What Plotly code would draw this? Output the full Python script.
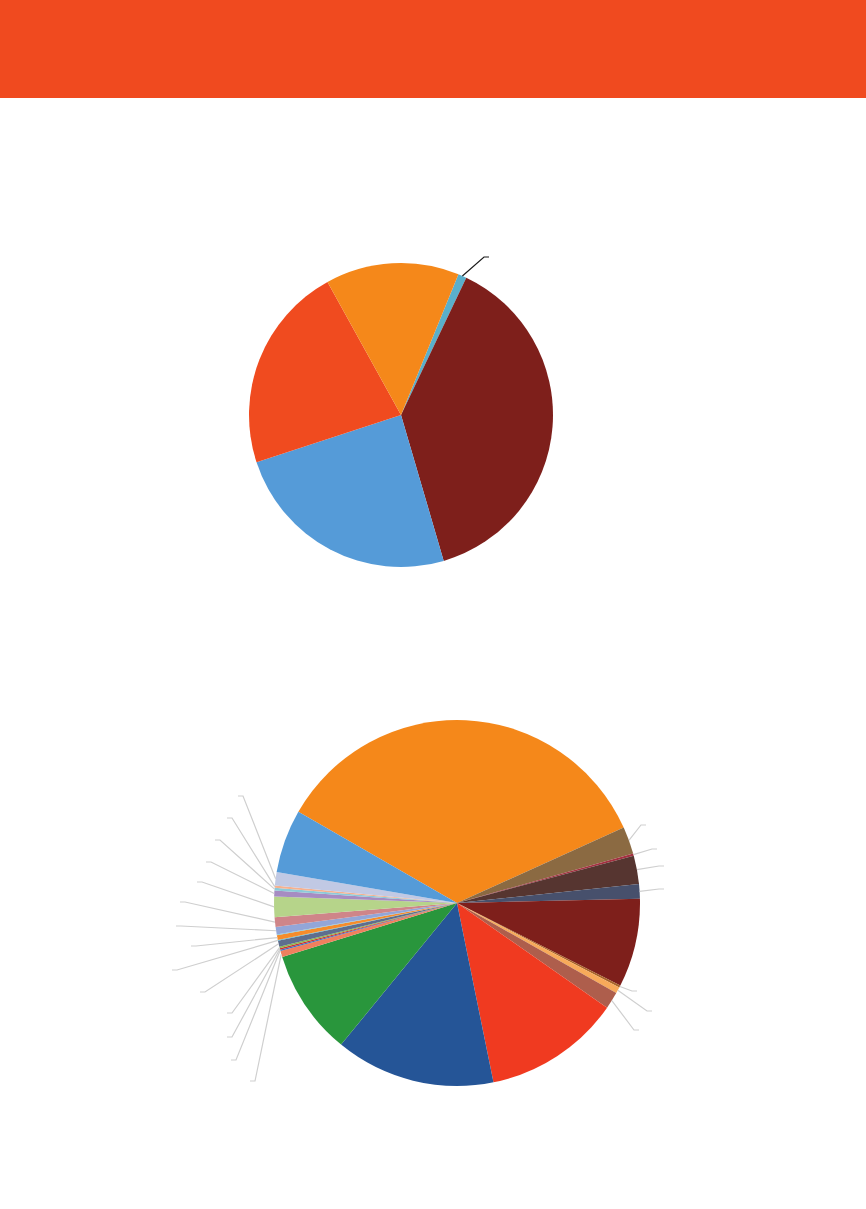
import math
import plotly.graph_objects as go

# ---- data -------------------------------------------------------------
# Upper pie (clockwise, first slice starts at TOP_ROTATION degrees)
TOP_LABELS = ['Category E', 'Category A', 'Category B', 'Category C', 'Category D']
TOP_VALUES = [0.9, 38.4, 24.5, 22.0, 14.2]
TOP_COLORS = ['#5AAFCB', '#7E1F1B', '#559BD8', '#F04B1F', '#F5881A']

# Lower pie (clockwise, first slice starts at BOTTOM_ROTATION degrees)
BOTTOM_LABELS = [
    'Item 01', 'Item 02', 'Item 03', 'Item 04', 'Item 05', 'Item 06', 'Item 07',
    'Item 08', 'Item 09', 'Item 10', 'Item 11', 'Item 12', 'Item 13', 'Item 14',
    'Item 15', 'Item 16', 'Item 17', 'Item 18', 'Item 19', 'Item 20', 'Item 21',
    'Item 22', 'Item 23', 'Item 24', 'Item 25', 'Item 26', 'Item 27', 'Item 28',
]
BOTTOM_VALUES = [
    34.9, 2.4, 0.2, 2.5, 1.3, 7.8, 0.2,
    0.55, 1.5, 12.1, 14.1, 9.3, 0.55, 0.12,
    0.12, 0.14, 0.53, 0.08, 0.42, 0.07, 0.64,
    0.87, 1.8, 0.52, 0.24, 0.2, 1.17, 5.6,
]
BOTTOM_COLORS = [
    '#F5881A', '#8B6A42', '#A33040', '#563530', '#47506C', '#7E1F1B', '#A8642A',
    '#F8AA5A', '#AE5E4C', '#F03A20', '#255597', '#29963C', '#F0805E', '#3A6FC0',
    '#D03030', '#8DB84A', '#5E6E8E', '#5BB8D0', '#F58C2C', '#7CC8D8', '#93A6D8',
    '#CF8589', '#B6D48A', '#A68CC2', '#8CCAD9', '#F6B18F', '#C1C9E4', '#559BD8',
]

# ---- layout settings --------------------------------------------------
W, H = 866, 1209
HEADER_H = 98
HEADER_COLOR = '#F04A1F'

TOP_CENTER, TOP_R, TOP_ROTATION = (401, 415), 152, 22.2
BOTTOM_CENTER, BOTTOM_R, BOTTOM_ROTATION = (457, 903), 183, -60.1

# leader lines: slice index -> elbow point (px) of the label connector
TOP_LEADERS = {0: (484, 257)}
BOTTOM_LEADERS = {
    1: (641, 825), 2: (652, 849), 3: (659, 866), 4: (659, 889),
    6: (632, 991), 7: (647, 1011), 8: (634, 1030),
    26: (243, 796), 25: (232, 818), 24: (220, 840), 23: (211, 862),
    22: (202, 882), 21: (185, 902), 20: (181, 926), 18: (196, 946),
    17: (177, 970), 16: (205, 992), 15: (232, 1013), 14: (232, 1037),
    13: (236, 1060), 12: (255, 1081),
}
TAIL = 5  # horizontal end of each connector, px


def px(x, y):
    return x / W, 1 - y / H


def domain(center, r):
    cx, cy = center
    return dict(x=[(cx - r) / W, (cx + r) / W], y=[1 - (cy + r) / H, 1 - (cy - r) / H])


def leader_shapes(values, center, r, rotation, leaders, color):
    total = sum(values)
    shapes = []
    cum = 0
    mids = []
    for v in values:
        mids.append(rotation + 360 * (cum + v / 2) / total)
        cum += v
    for idx, (ex, ey) in leaders.items():
        a = math.radians(mids[idx])
        sx = center[0] + r * math.sin(a)
        sy = center[1] - r * math.cos(a)
        tx = ex + (TAIL if ex > center[0] else -TAIL)
        path = 'M {},{} L {},{} L {},{}'.format(*px(sx, sy), *px(ex, ey), *px(tx, ey))
        shapes.append(dict(type='path', xref='paper', yref='paper', path=path,
                           line=dict(color=color, width=1.2)))
    return shapes


fig = go.Figure()
fig.add_trace(go.Pie(
    labels=TOP_LABELS, values=TOP_VALUES, sort=False, direction='clockwise',
    rotation=TOP_ROTATION, marker=dict(colors=TOP_COLORS, line=dict(width=0)),
    textinfo='none', hoverinfo='label+percent', domain=domain(TOP_CENTER, TOP_R),
    showlegend=False,
))
fig.add_trace(go.Pie(
    labels=BOTTOM_LABELS, values=BOTTOM_VALUES, sort=False, direction='clockwise',
    rotation=BOTTOM_ROTATION, marker=dict(colors=BOTTOM_COLORS, line=dict(width=0)),
    textinfo='none', hoverinfo='label+percent', domain=domain(BOTTOM_CENTER, BOTTOM_R),
    showlegend=False,
))

shapes = [dict(type='rect', xref='paper', yref='paper', x0=0, x1=1,
               y0=1 - HEADER_H / H, y1=1, fillcolor=HEADER_COLOR, line=dict(width=0), layer='below')]
shapes += leader_shapes(TOP_VALUES, TOP_CENTER, TOP_R, TOP_ROTATION, TOP_LEADERS, '#1A1A1A')
shapes += leader_shapes(BOTTOM_VALUES, BOTTOM_CENTER, BOTTOM_R, BOTTOM_ROTATION, BOTTOM_LEADERS, '#CFCFCF')

fig.update_layout(
    width=W, height=H,
    margin=dict(l=0, r=0, t=0, b=0),
    paper_bgcolor='white', plot_bgcolor='white',
    shapes=shapes,
)

fig.write_html("out.html", config={'displayModeBar': False},
               post_script="document.body.style.margin='0';")
